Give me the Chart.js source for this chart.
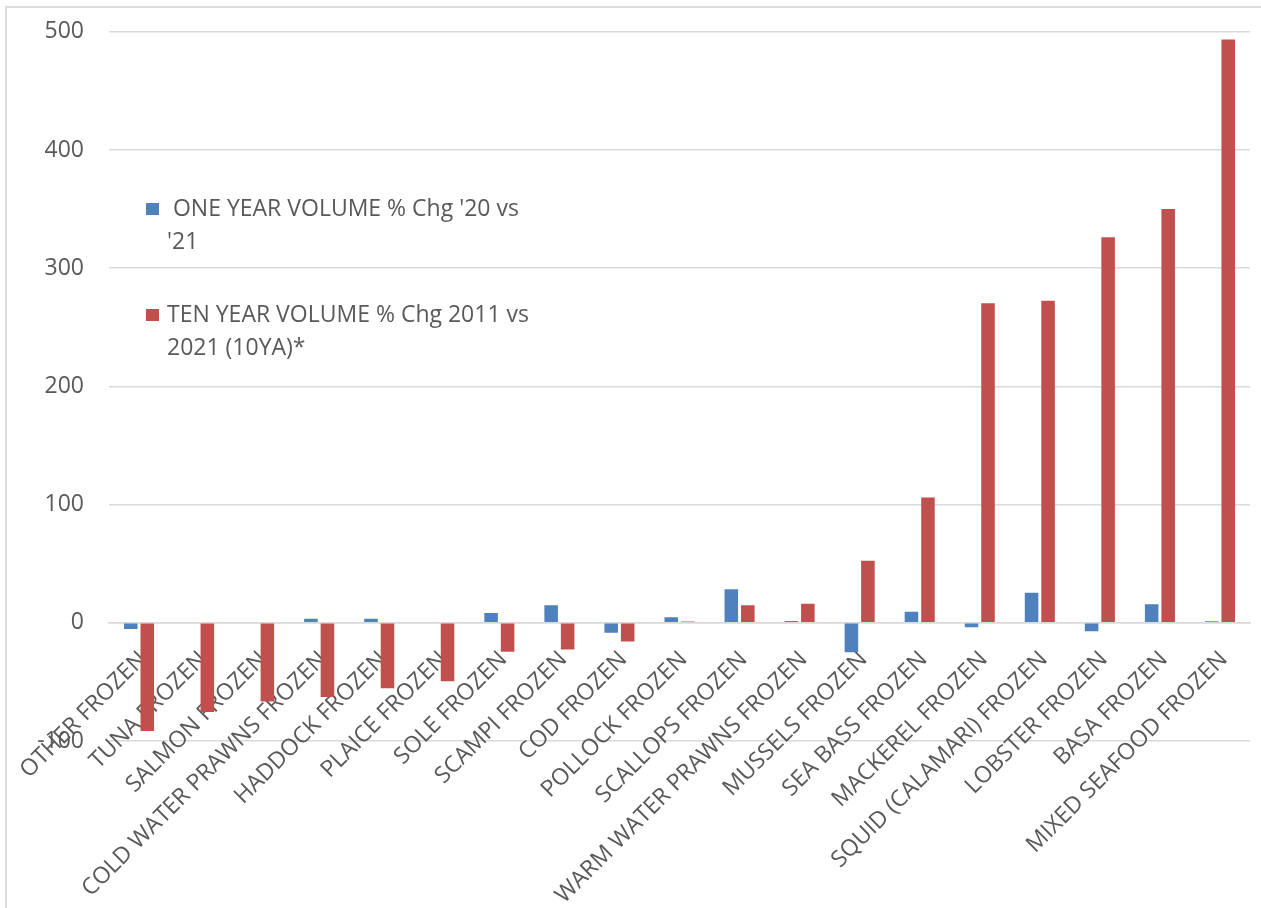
<!DOCTYPE html>
<html>
<head>
<meta charset="utf-8">
<script src="https://cdn.jsdelivr.net/npm/chart.js@4/dist/chart.umd.min.js"></script>
<style>
  html, body { margin: 0; padding: 0; background: #ffffff; }
  #wrap { position: relative; width: 1261px; height: 908px; overflow: hidden; }
  #frame {
    position: absolute; left: 5px; top: 6px; width: 1300px; height: 1000px;
    border-left: 2px solid #dcdcdc; border-top: 2px solid #dcdcdc;
    box-sizing: border-box; pointer-events: none;
  }
  #chart { position: absolute; left: 0; top: -7px; display: block; }
</style>
</head>
<body>
<div id="wrap">
  <div id="frame"></div>
  <canvas id="chart" width="1261" height="915"></canvas>
</div>
<script>
// Frozen seafood categories, ordered by ten-year change
const categories = [
  "OTHER FROZEN", "TUNA FROZEN", "SALMON FROZEN", "COLD WATER PRAWNS FROZEN",
  "HADDOCK FROZEN", "PLAICE FROZEN", "SOLE FROZEN", "SCAMPI FROZEN", "COD FROZEN",
  "POLLOCK FROZEN", "SCALLOPS FROZEN", "WARM WATER PRAWNS FROZEN", "MUSSELS FROZEN",
  "SEA BASS FROZEN", "MACKEREL FROZEN", "SQUID (CALAMARI) FROZEN", "LOBSTER FROZEN",
  "BASA FROZEN", "MIXED SEAFOOD FROZEN"
];

// One-year volume % change, 2020 vs 2021
const oneYearChange = [
  -5.2, 0, 0.7, 3.5, 3.5, 0, 8.3, 14.8, -8.4, 4.6,
  28.3, 1.5, -24.9, 9.4, -3.8, 25.5, -7.2, 15.6, 1.3
];

// Ten-year volume % change, 2011 vs 2021
const tenYearChange = [
  -91.5, -75.5, -66.6, -62.8, -55.3, -49.4, -24.5, -22.5, -15.8, 1.0,
  14.8, 16.2, 52.5, 106, 270.4, 272.4, 326.2, 350.1, 493.4
];

const seriesLabels = [" ONE YEAR VOLUME % Chg '20 vs '21", "TEN YEAR VOLUME % Chg 2011 vs 2021 (10YA)*"];
const seriesColors = ["#4F81BD", "#C0504D"];

// Value axis range
const yMin = -100;
const yMax = 500;
const yStep = 100;

const TEXT_COLOR = "#595959";
const GRID_COLOR = "#d9d9d9";
const FONT_FAMILY = "'Open Sans', 'Noto Sans', sans-serif";
const FONT_SIZE = 23;
const CATEGORY_FONT_SIZE = 23;

// Legend inside the plot, with wrapped entries
const innerLegend = {
  id: "innerLegend",
  afterDraw(chart, args, opts) {
    const ctx = chart.ctx;
    ctx.save();
    ctx.font = `${opts.fontSize}px ${FONT_FAMILY}`;
    ctx.textBaseline = "alphabetic";
    ctx.textAlign = "left";
    let baseline = opts.top;
    chart.data.datasets.forEach((ds) => {
      const words = ds.label.split(" ");
      const lines = [];
      let line = "";
      words.forEach((w, i) => {
        const test = i === 0 ? w : line + " " + w;
        if (line.trim() !== "" && ctx.measureText(test).width > opts.maxWidth) {
          lines.push(line);
          line = w;
        } else {
          line = test;
        }
      });
      lines.push(line);
      ctx.fillStyle = ds.backgroundColor;
      ctx.fillRect(opts.left, baseline - 13, 13, 12);
      ctx.fillStyle = TEXT_COLOR;
      lines.forEach((l, k) => {
        ctx.fillText(l, opts.textLeft, baseline + k * opts.lineHeight);
      });
      baseline += lines.length * opts.lineHeight + opts.gap;
    });
    ctx.restore();
  }
};

new Chart(document.getElementById("chart"), {
  type: "bar",
  data: {
    labels: categories,
    datasets: [
      { label: seriesLabels[0], data: oneYearChange, backgroundColor: seriesColors[0] },
      { label: seriesLabels[1], data: tenYearChange, backgroundColor: seriesColors[1] }
    ]
  },
  options: {
    responsive: false,
    animation: false,
    devicePixelRatio: 1,
    categoryPercentage: 0.55,
    barPercentage: 0.82,
    layout: { padding: { top: 10, right: 11, bottom: 167, left: 0 } },
    plugins: {
      legend: { display: false },
      tooltip: { enabled: false },
      innerLegend: {
        left: 146, textLeft: 167, top: 223, fontSize: FONT_SIZE,
        lineHeight: 33, gap: 40, maxWidth: 372
      }
    },
    scales: {
      y: {
        min: yMin,
        max: yMax,
        ticks: {
          stepSize: yStep,
          color: TEXT_COLOR,
          font: { family: FONT_FAMILY, size: FONT_SIZE },
          padding: 25
        },
        grid: { color: GRID_COLOR, lineWidth: 1.5, drawTicks: false },
        border: { display: false },
        afterFit(scale) { scale.width = 109; }
      },
      x: {
        position: { y: 0 },
        grid: { display: false, drawTicks: false },
        border: { display: true, color: GRID_COLOR, width: 1.5 },
        ticks: {
          autoSkip: false,
          minRotation: 45,
          maxRotation: 45,
          labelOffset: 4,
          color: TEXT_COLOR,
          font: { family: FONT_FAMILY, size: CATEGORY_FONT_SIZE },
          padding: 23
        },
        // category labels may overhang the plot edges freely
        afterFit(scale) {
          scale.paddingLeft = 0;
          scale.paddingRight = 0;
        }
      }
    }
  },
  plugins: [innerLegend]
});
</script>
</body>
</html>
